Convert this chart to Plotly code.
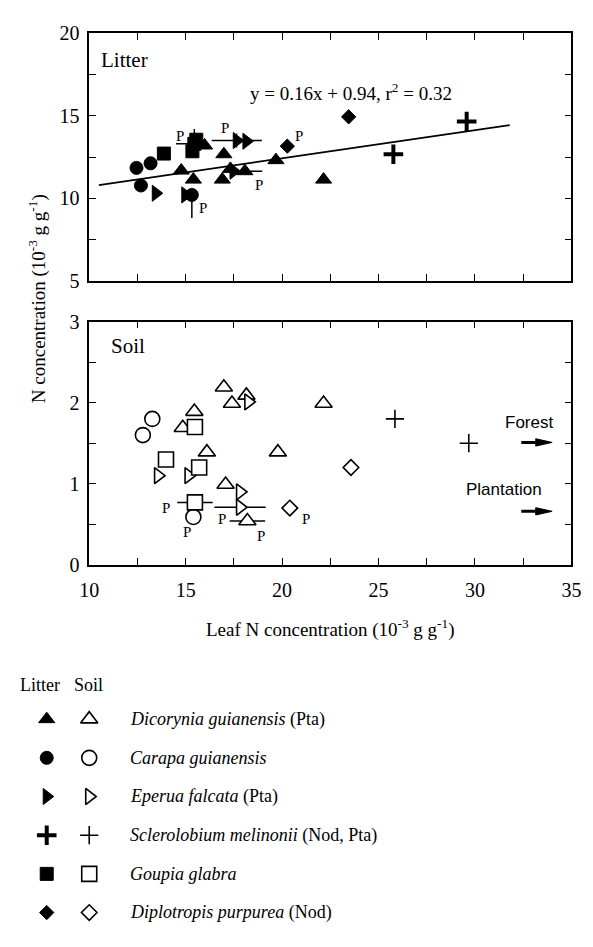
import plotly.graph_objects as go

W, H = 593, 947

# ---------------- data: Litter panel ----------------
lit_dic_x = [14.77, 15.40, 15.98, 16.98, 16.90, 17.32, 18.07, 19.68, 22.15]
lit_dic_y = [11.68, 11.13, 13.20, 12.67, 11.13, 11.78, 11.64, 12.31, 11.13]
lit_dic_ex = [0, 0, 0, 0, 0, 0, 0.9, 0, 0]

lit_car_x = [12.45, 13.18, 12.68, 15.32]
lit_car_y = [11.84, 12.12, 10.77, 10.20]
lit_car_eym = [0, 0, 0, 1.4]

lit_epe_x = [13.45, 14.98, 17.65, 18.15, 17.48]
lit_epe_y = [10.30, 10.20, 13.50, 13.46, 11.64]
lit_epe_ex = [0, 0, 1.3, 0, 0]
lit_epe_ey = [0, 0, 0.45, 0, 0]

lit_scl_x = [29.57, 25.77]
lit_scl_y = [14.65, 12.67]

lit_gou_x = [13.87, 15.55, 15.35, 15.45]
lit_gou_y = [12.71, 13.55, 12.85, 13.30]
lit_gou_exm = [0, 0, 0, 0.95]
lit_gou_eyp = [0, 0, 0, 0.9]

lit_dip_x = [23.45, 20.27]
lit_dip_y = [14.94, 13.16]

lit_fit_x = [10.5, 31.8]
lit_fit_y = [10.80, 14.43]
lit_eq_text = "y = 0.16x + 0.94, r<sup>2</sup> = 0.32"

lit_p_x = [14.7, 17.03, 18.8, 15.9, 20.9]
lit_p_y = [13.8, 14.25, 10.8, 9.4, 13.76]

# ---------------- data: Soil panel ----------------
soil_dic_x = [16.98, 17.40, 18.15, 22.15, 15.45, 14.85, 16.10, 19.78, 17.07, 18.20]
soil_dic_y = [2.19, 1.99, 2.09, 1.99, 1.89, 1.69, 1.39, 1.39, 0.99, 0.54]
soil_dic_ex = [0, 0, 0, 0, 0, 0, 0, 0, 0, 0.92]

soil_car_x = [13.27, 12.78, 15.40]
soil_car_y = [1.80, 1.60, 0.59]

soil_epe_x = [13.57, 15.15, 17.82, 17.82, 18.25]
soil_epe_y = [1.10, 1.10, 0.90, 0.71, 2.01]
soil_epe_ex = [0, 0, 0, 1.33, 0]

soil_scl_x = [25.85, 29.68]
soil_scl_y = [1.80, 1.50]

soil_gou_x = [15.48, 13.98, 15.70, 15.48]
soil_gou_y = [1.70, 1.30, 1.20, 0.77]
soil_gou_ex = [0, 0, 0, 0.92]

soil_dip_x = [23.57, 20.40]
soil_dip_y = [1.20, 0.70]

soil_p_x = [13.98, 15.07, 16.9, 18.9, 21.23]
soil_p_y = [0.70, 0.41, 0.57, 0.35, 0.57]

arrow_labels = ["Forest", "Plantation"]
arrow_label_x = [32.8, 31.5]
arrow_label_y = [1.76, 0.93]
arrow_x0 = [32.4, 32.4]
arrow_x1 = [34.0, 34.0]
arrow_y = [1.51, 0.66]

# ---------------- legend ----------------
species = ["<i>Dicorynia guianensis</i> (Pta)",
           "<i>Carapa guianensis</i>",
           "<i>Eperua falcata</i> (Pta)",
           "<i>Sclerolobium melinonii</i> (Nod, Pta)",
           "<i>Goupia glabra</i>",
           "<i>Diplotropis purpurea</i> (Nod)"]
symbols = ["triangle-up", "circle", "triangle-right", "cross-thin", "square", "diamond"]

x_ticks = [10, 15, 20, 25, 30, 35]
lit_yticks = [5, 10, 15, 20]
soil_yticks = [0, 1, 2, 3]

SERIF = "Liberation Serif"
SANS = "Liberation Sans"

fill_size = {"triangle-up": 14, "circle": 13, "triangle-right": 14,
             "cross-thin": 14, "square": 13, "diamond": 11}
open_size = {"triangle-up": 15, "circle": 15, "triangle-right": 14,
             "cross-thin": 13, "square": 15, "diamond": 12}


def filled_marker(sym):
    if sym == "cross-thin":
        return dict(symbol=sym, size=fill_size[sym], color="black",
                    line=dict(color="black", width=4))
    return dict(symbol=sym, size=fill_size[sym], color="black",
                line=dict(color="black", width=1))


def open_marker(sym):
    if sym == "cross-thin":
        return dict(symbol=sym, size=open_size[sym], color="black",
                    line=dict(color="black", width=1.6))
    return dict(symbol=sym, size=open_size[sym], color="white",
                line=dict(color="black", width=1.6))


def err(arr, arrm=None, thickness=1.5):
    d = dict(type="data", array=arr, visible=True, color="black",
             thickness=thickness, width=0)
    if arrm is not None:
        d["arrayminus"] = arrm
        d["symmetric"] = False
    return d


def zeros(n):
    return [0] * n


fig = go.Figure()

# regression line (under markers)
fig.add_trace(go.Scatter(x=lit_fit_x, y=lit_fit_y, mode="lines",
                         line=dict(color="black", width=1.8),
                         xaxis="x", yaxis="y", showlegend=False))

# Litter traces
fig.add_trace(go.Scatter(x=lit_dic_x, y=lit_dic_y, mode="markers",
                         marker=filled_marker("triangle-up"),
                         error_x=err(lit_dic_ex), xaxis="x", yaxis="y", showlegend=False))
fig.add_trace(go.Scatter(x=lit_car_x, y=lit_car_y, mode="markers",
                         marker=filled_marker("circle"),
                         error_y=err(zeros(len(lit_car_x)), lit_car_eym),
                         xaxis="x", yaxis="y", showlegend=False))
fig.add_trace(go.Scatter(x=lit_epe_x, y=lit_epe_y, mode="markers",
                         marker=filled_marker("triangle-right"),
                         error_x=err(lit_epe_ex),
                         error_y=err(lit_epe_ey, thickness=0.8),
                         xaxis="x", yaxis="y", showlegend=False))
fig.add_trace(go.Scatter(x=lit_scl_x, y=lit_scl_y, mode="markers",
                         marker=filled_marker("cross-thin"),
                         xaxis="x", yaxis="y", showlegend=False))
fig.add_trace(go.Scatter(x=lit_gou_x, y=lit_gou_y, mode="markers",
                         marker=filled_marker("square"),
                         error_x=err(zeros(len(lit_gou_x)), lit_gou_exm),
                         error_y=err(lit_gou_eyp, zeros(len(lit_gou_x))),
                         xaxis="x", yaxis="y", showlegend=False))
fig.add_trace(go.Scatter(x=lit_dip_x, y=lit_dip_y, mode="markers",
                         marker=filled_marker("diamond"),
                         xaxis="x", yaxis="y", showlegend=False))

# Soil traces
fig.add_trace(go.Scatter(x=soil_dic_x, y=soil_dic_y, mode="markers",
                         marker=open_marker("triangle-up"), error_x=err(soil_dic_ex),
                         xaxis="x2", yaxis="y2", showlegend=False))
fig.add_trace(go.Scatter(x=soil_car_x, y=soil_car_y, mode="markers",
                         marker=open_marker("circle"),
                         xaxis="x2", yaxis="y2", showlegend=False))
fig.add_trace(go.Scatter(x=soil_epe_x, y=soil_epe_y, mode="markers",
                         marker=open_marker("triangle-right"), error_x=err(soil_epe_ex),
                         xaxis="x2", yaxis="y2", showlegend=False))
fig.add_trace(go.Scatter(x=soil_scl_x, y=soil_scl_y, mode="markers",
                         marker=open_marker("cross-thin"),
                         xaxis="x2", yaxis="y2", showlegend=False))
fig.add_trace(go.Scatter(x=soil_gou_x, y=soil_gou_y, mode="markers",
                         marker=open_marker("square"), error_x=err(soil_gou_ex),
                         xaxis="x2", yaxis="y2", showlegend=False))
fig.add_trace(go.Scatter(x=soil_dip_x, y=soil_dip_y, mode="markers",
                         marker=open_marker("diamond"),
                         xaxis="x2", yaxis="y2", showlegend=False))

# Legend markers on a hidden axis
LEG_COL_FILLED, LEG_COL_OPEN, LEG_COL_TEXT = 38, 82, 122
rows = list(range(len(species)))
for i, sym in enumerate(symbols):
    fig.add_trace(go.Scatter(x=[LEG_COL_FILLED], y=[rows[i]], mode="markers",
                             marker=filled_marker(sym), xaxis="x3", yaxis="y3",
                             showlegend=False))
    fig.add_trace(go.Scatter(x=[LEG_COL_OPEN], y=[rows[i]], mode="markers",
                             marker=open_marker(sym), xaxis="x3", yaxis="y3",
                             showlegend=False))

annotations = []
for i, s in enumerate(species):
    annotations.append(dict(x=LEG_COL_TEXT, y=rows[i], xref="x3", yref="y3", text=s,
                            showarrow=False, xanchor="left", yanchor="middle",
                            font=dict(family=SERIF, size=18, color="black")))
annotations.append(dict(x=31, y=-0.88, xref="x3", yref="y3", text="Litter",
                        showarrow=False, xanchor="center", yanchor="middle",
                        font=dict(family=SERIF, size=18, color="black")))
annotations.append(dict(x=81, y=-0.88, xref="x3", yref="y3", text="Soil",
                        showarrow=False, xanchor="center", yanchor="middle",
                        font=dict(family=SERIF, size=18, color="black")))

# Panel labels
annotations.append(dict(x=10.5, y=18.4, xref="x", yref="y", text="Litter", showarrow=False,
                        xanchor="left", yanchor="middle",
                        font=dict(family=SERIF, size=21, color="black")))
annotations.append(dict(x=11.0, y=2.70, xref="x2", yref="y2", text="Soil", showarrow=False,
                        xanchor="left", yanchor="middle",
                        font=dict(family=SERIF, size=21, color="black")))
annotations.append(dict(x=23.55, y=16.44, xref="x", yref="y", text=lit_eq_text,
                        showarrow=False, xanchor="center", yanchor="middle",
                        font=dict(family=SERIF, size=19, color="black")))
for px_, py_ in zip(lit_p_x, lit_p_y):
    annotations.append(dict(x=px_, y=py_, xref="x", yref="y", text="P", showarrow=False,
                            xanchor="center", yanchor="middle",
                            font=dict(family=SERIF, size=15, color="black")))
for px_, py_ in zip(soil_p_x, soil_p_y):
    annotations.append(dict(x=px_, y=py_, xref="x2", yref="y2", text="P", showarrow=False,
                            xanchor="center", yanchor="middle",
                            font=dict(family=SERIF, size=15, color="black")))
for t, lx, ly in zip(arrow_labels, arrow_label_x, arrow_label_y):
    annotations.append(dict(x=lx, y=ly, xref="x2", yref="y2", text=t, showarrow=False,
                            xanchor="center", yanchor="middle",
                            font=dict(family=SANS, size=17, color="black")))

# axis titles
annotations.append(dict(x=331 / W, y=1 - 632 / H, xref="paper", yref="paper",
                        xanchor="center", yanchor="middle",
                        text="Leaf N concentration (10<sup>-3</sup> g g<sup>-1</sup>)",
                        showarrow=False, font=dict(family=SERIF, size=19, color="black")))
annotations.append(dict(x=28 / W, y=1 - 295 / H, xref="paper", yref="paper", textangle=-90,
                        xanchor="center", yanchor="middle",
                        text="N concentration (10<sup>-3</sup> g g<sup>-1</sup>)",
                        showarrow=False, font=dict(family=SERIF, size=19, color="black")))

# arrows (Forest / Plantation) built from arrow data
shapes = []
HEAD_LEN = 0.85
HEAD_HALF = 0.045
for x0, x1, y in zip(arrow_x0, arrow_x1, arrow_y):
    shapes.append(dict(type="line", xref="x2", yref="y2", x0=x0, x1=x1 - HEAD_LEN * 0.6,
                       y0=y, y1=y, line=dict(color="black", width=3)))
    shapes.append(dict(type="path", xref="x2", yref="y2",
                       path=f"M {x1 - HEAD_LEN},{y - HEAD_HALF} L {x1},{y} "
                            f"L {x1 - HEAD_LEN},{y + HEAD_HALF} Z",
                       fillcolor="black", line=dict(color="black", width=1)))

axis_common = dict(showline=True, linecolor="black", linewidth=1.5, mirror="ticks",
                   ticks="inside", ticklen=7, tickwidth=1.2, tickcolor="black",
                   showgrid=False, zeroline=False,
                   tickfont=dict(family=SERIF, size=20, color="black"))

xdom = [82 / W, 581 / W]
fig.update_layout(
    width=W, height=H, margin=dict(l=0, r=0, t=0, b=0),
    paper_bgcolor="white", plot_bgcolor="white",
    showlegend=False,
    font=dict(family=SERIF, color="black"),
    xaxis=dict(domain=xdom, anchor="y", range=[10, 35], tickvals=x_ticks,
               showticklabels=False,
               minor=dict(dtick=2.5, tick0=10, ticks="inside", ticklen=7,
                          tickwidth=1.2, tickcolor="black"), **axis_common),
    yaxis=dict(domain=[1 - 276 / H, 1 - 23 / H], anchor="x", range=[5, 20],
               tickvals=lit_yticks, ticklabelstandoff=4,
               minor=dict(dtick=2.5, tick0=5, ticks="inside", ticklen=7,
                          tickwidth=1.2, tickcolor="black"), **axis_common),
    xaxis2=dict(domain=xdom, anchor="y2", range=[10, 35], tickvals=x_ticks,
                ticklabelstandoff=6,
                minor=dict(dtick=2.5, tick0=10, ticks="inside", ticklen=7,
                           tickwidth=1.2, tickcolor="black"), **axis_common),
    yaxis2=dict(domain=[1 - 567 / H, 1 - 318 / H], anchor="x2", range=[0, 3],
                tickvals=soil_yticks, ticklabelstandoff=4,
                minor=dict(dtick=0.5, tick0=0, ticks="inside", ticklen=7,
                           tickwidth=1.2, tickcolor="black"), **axis_common),
    xaxis3=dict(domain=[0, 1], anchor="y3", range=[0, W], visible=False),
    yaxis3=dict(domain=[0, 1 - 660 / H], anchor="x3", range=[5.606, -1.641], visible=False),
    annotations=annotations,
    shapes=shapes,
)

fig.write_html("out.html")
